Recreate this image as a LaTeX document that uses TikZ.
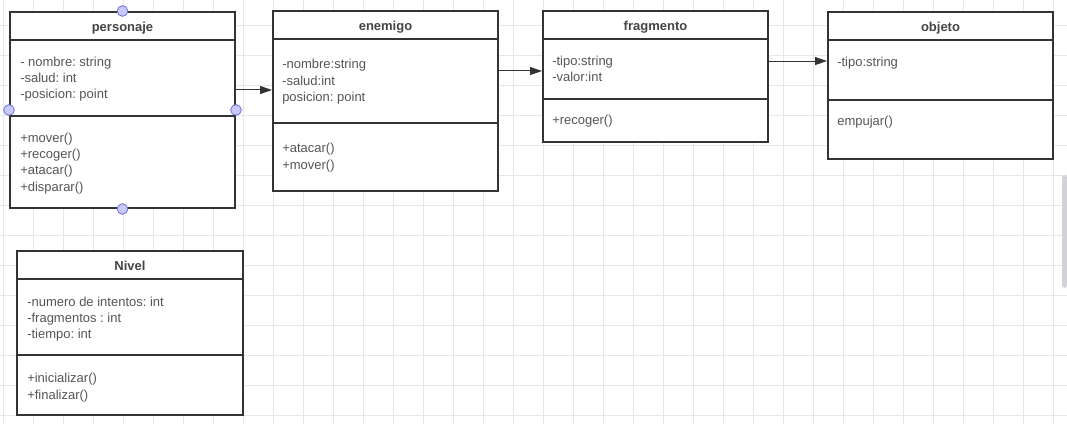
\documentclass[tikz,border=0pt]{standalone}
\usepackage{fontspec}
\setmainfont{Liberation Sans}
\usetikzlibrary{arrows.meta}
\frenchspacing
\definecolor{gridc}{HTML}{E6E6E6}
\definecolor{boxc}{HTML}{333333}
\definecolor{txtc}{HTML}{555555}
\definecolor{ttlc}{HTML}{444444}
\definecolor{ptfill}{RGB}{200,200,250}
\definecolor{ptdraw}{RGB}{110,110,220}
\definecolor{scrollc}{HTML}{D2D2DA}
\tikzset{
  classbox/.style={draw=boxc, line width=1.5pt, fill=white, inner sep=0pt, minimum width=168.75pt},
  divline/.style={draw=boxc, line width=1.5pt},
  txt/.style={anchor=base west, inner sep=0pt, font=\fontsize{9.75}{12}\selectfont, text=txtc},
  ttl/.style={anchor=base, inner sep=0pt, font=\fontsize{9.75}{12}\selectfont\bfseries, text=ttlc},
  arr/.style={draw=boxc, line width=0.75pt, -{Triangle[length=9pt,width=6pt]}},
  cpoint/.style={circle, draw=ptdraw, fill=ptfill, line width=0.6pt, minimum size=8pt, inner sep=0pt},
}
\begin{document}
\begin{tikzpicture}[x=0.75pt,y=-0.75pt]
\useasboundingbox (0,0) rectangle (1067,424);
\fill[white] (0,0) rectangle (1067,424);
% grid
\foreach \gx in {3,33,...,1063} \draw[gridc, line width=0.6pt] (\gx,0) -- (\gx,424);
\foreach \gy in {25,55,...,415} \draw[gridc, line width=0.6pt] (0,\gy) -- (1067,\gy);
% scrollbar
\fill[scrollc, rounded corners=2pt] (1062,175) rectangle (1067,288);

% personaje
\node[classbox, minimum height=147pt] (pers) at (122.5,110) {};
\draw[divline] (pers.west |- 0,40) -- (pers.east |- 0,40);
\draw[divline] (pers.west |- 0,116) -- (pers.east |- 0,116);
\node[ttl] (perst) at (122.5,31.5) {personaje};
\node[txt] (pa1) at (20,67) {- nombre: string};
\node[txt] (pa2) at (20,83) {-salud: int};
\node[txt] (pa3) at (20,99) {-posicion: point};
\node[txt] (pm1) at (20,143) {+mover()};
\node[txt] (pm2) at (20,159) {+recoger()};
\node[txt] (pm3) at (20,175) {+atacar()};
\node[txt] (pm4) at (20,191) {+disparar()};

% enemigo
\node[classbox, minimum height=135pt] (ene) at (385.5,101) {};
\draw[divline] (ene.west |- 0,39) -- (ene.east |- 0,39);
\draw[divline] (ene.west |- 0,123) -- (ene.east |- 0,123);
\node[ttl] (enet) at (385.5,30.5) {enemigo};
\node[txt] (ea1) at (282,69) {-nombre:string};
\node[txt] (ea2) at (282,86) {-salud:int};
\node[txt] (ea3) at (282,102) {posicion: point};
\node[txt] (em1) at (282,153) {+atacar()};
\node[txt] (em2) at (282,170) {+mover()};

% fragmento
\node[classbox, minimum height=98.25pt] (frag) at (655.5,76.5) {};
\draw[divline] (frag.west |- 0,39) -- (frag.east |- 0,39);
\draw[divline] (frag.west |- 0,99) -- (frag.east |- 0,99);
\node[ttl] (fragt) at (655.5,30.5) {fragmento};
\node[txt] (fa1) at (552,66) {-tipo:string};
\node[txt] (fa2) at (552,82) {-valor:int};
\node[txt] (fm1) at (552,125) {+recoger()};

% objeto
\node[classbox, minimum height=110.25pt] (obj) at (940.5,85.5) {};
\draw[divline] (obj.west |- 0,40) -- (obj.east |- 0,40);
\draw[divline] (obj.west |- 0,100) -- (obj.east |- 0,100);
\node[ttl] (objt) at (940.5,31.5) {objeto};
\node[txt] (oa1) at (837,67) {-tipo:string};
\node[txt] (om1) at (837,126) {empujar()};

% Nivel
\node[classbox, minimum width=169.5pt, minimum height=123pt] (niv) at (130,333) {};
\draw[divline] (niv.west |- 0,279) -- (niv.east |- 0,279);
\draw[divline] (niv.west |- 0,355) -- (niv.east |- 0,355);
\node[ttl] (nivt) at (130,270.5) {Nivel};
\node[txt] (na1) at (27,306) {-numero de intentos: int};
\node[txt] (na2) at (27,322) {-fragmentos : int};
\node[txt] (na3) at (27,338) {-tiempo: int};
\node[txt] (nm1) at (27,382) {+inicializar()};
\node[txt] (nm2) at (27,399) {+finalizar()};

% connectors
\draw[arr] ([yshift=15pt]pers.east) coordinate (c1) -- (c1 -| ene.west);
\draw[arr] ([yshift=22.5pt]ene.east) coordinate (c2) -- (c2 -| frag.west);
\draw[arr] ([yshift=11.6pt]frag.east) coordinate (c3) -- (c3 -| obj.west);

% connection points
\node[cpoint] (p1) at (pers.north) {};
\node[cpoint] (p2) at (pers.south) {};
\node[cpoint] (p3) at (pers.west) {};
\node[cpoint] (p4) at (pers.east) {};
\end{tikzpicture}
\end{document}
